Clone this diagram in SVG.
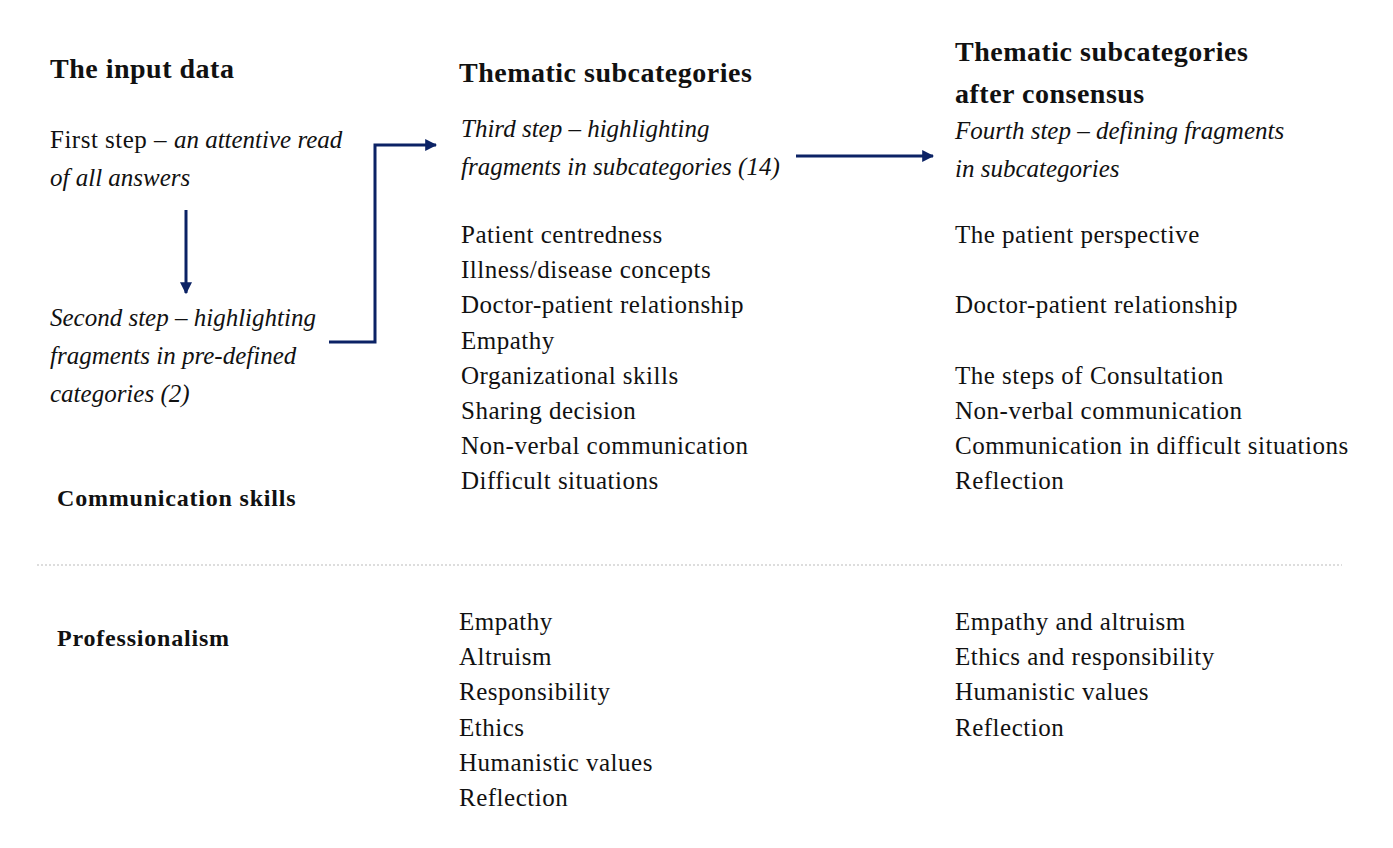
<svg xmlns="http://www.w3.org/2000/svg" width="1393" height="848" viewBox="0 0 1393 848">
<style>
text{font-family:"Liberation Serif","Times New Roman",serif;fill:#111;}
.h{font-weight:bold;font-size:28px;letter-spacing:0.5px;}
.s{font-weight:bold;font-size:24px;letter-spacing:0.8px;}
.t{font-size:25px;letter-spacing:0.5px;}
.i{font-size:25px;font-style:italic;}
.c{fill:none;stroke:#0b2265;stroke-width:3;}
</style>
<defs>
<marker id="ah" viewBox="0 0 10 10" refX="9" refY="5" markerWidth="4" markerHeight="4" orient="auto" markerUnits="strokeWidth">
<path d="M0,0 L10,5 L0,10 z" fill="#0b2265"/>
</marker>
</defs>
<rect width="1393" height="848" fill="#fff"/>
<g id="input">
<text class="h" x="50" y="78">The input data</text>
<text class="t" x="50" y="148">First step – <tspan font-style="italic" letter-spacing="0">an attentive read</tspan></text>
<text class="i" x="50" y="186">of all answers</text>
</g>
<g id="second">
<text class="i" x="50" y="326">Second step – highlighting</text>
<text class="i" x="50" y="364">fragments in pre-defined</text>
<text class="i" x="50" y="402">categories (2)</text>
</g>
<g id="comm">
<text class="s" x="57" y="506">Communication skills</text>
</g>
<g id="prof">
<text class="s" x="57" y="646">Professionalism</text>
</g>
<g id="col2head">
<text class="h" x="459" y="82">Thematic subcategories</text>
<text class="i" x="461" y="137">Third step – highlighting</text>
<text class="i" x="461" y="175">fragments in subcategories (14)</text>
</g>
<g id="col2comm">
<text class="t" x="461" y="243">Patient centredness</text>
<text class="t" x="461" y="278">Illness/disease concepts</text>
<text class="t" x="461" y="313">Doctor-patient relationship</text>
<text class="t" x="461" y="349">Empathy</text>
<text class="t" x="461" y="384">Organizational skills</text>
<text class="t" x="461" y="419">Sharing decision</text>
<text class="t" x="461" y="454">Non-verbal communication</text>
<text class="t" x="461" y="489">Difficult situations</text>
</g>
<g id="col2prof">
<text class="t" x="459" y="630">Empathy</text>
<text class="t" x="459" y="665">Altruism</text>
<text class="t" x="459" y="700">Responsibility</text>
<text class="t" x="459" y="736">Ethics</text>
<text class="t" x="459" y="771">Humanistic values</text>
<text class="t" x="459" y="806">Reflection</text>
</g>
<g id="col3head">
<text class="h" x="955" y="61">Thematic subcategories</text>
<text class="h" x="955" y="103">after consensus</text>
<text class="i" x="955" y="139">Fourth step – defining fragments</text>
<text class="i" x="955" y="177">in subcategories</text>
</g>
<g id="col3comm">
<text class="t" x="955" y="243">The patient perspective</text>
<text class="t" x="955" y="313">Doctor-patient relationship</text>
<text class="t" x="955" y="384">The steps of Consultation</text>
<text class="t" x="955" y="419">Non-verbal communication</text>
<text class="t" x="955" y="454">Communication in difficult situations</text>
<text class="t" x="955" y="489">Reflection</text>
</g>
<g id="col3prof">
<text class="t" x="955" y="630">Empathy and altruism</text>
<text class="t" x="955" y="665">Ethics and responsibility</text>
<text class="t" x="955" y="700">Humanistic values</text>
<text class="t" x="955" y="736">Reflection</text>
</g>
<g id="connectors">
<line class="c" x1="186" y1="210" x2="186" y2="293" marker-end="url(#ah)"/>
<polyline class="c" points="329,342 375,342 375,145 436,145" marker-end="url(#ah)"/>
<line class="c" x1="796" y1="156" x2="933" y2="156" marker-end="url(#ah)"/>
</g>
<line x1="37" y1="565" x2="1342" y2="565" stroke="#bbb" stroke-width="1" stroke-dasharray="2,2"/>
</svg>
